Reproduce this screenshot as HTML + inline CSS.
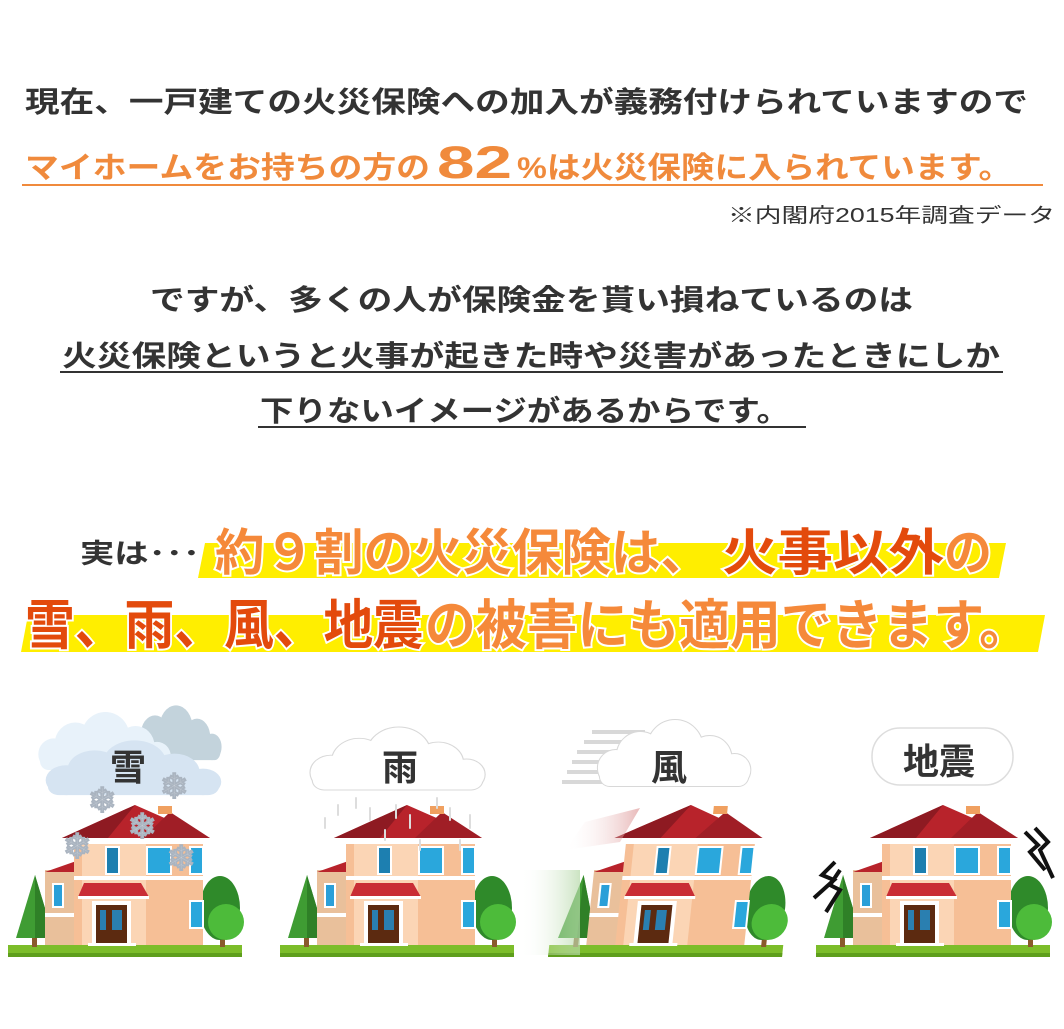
<!DOCTYPE html>
<html><head><meta charset="utf-8"><style>
html,body{margin:0;padding:0;background:#fff;}
svg{display:block;}
text{font-family:"Liberation Sans","Noto Sans CJK JP",sans-serif;font-weight:bold;}
</style></head><body>
<svg width="1064" height="1029" viewBox="0 0 1064 1029" xmlns="http://www.w3.org/2000/svg">
<defs>
<g id="house">
  <rect x="0" y="145" width="234" height="12" fill="#7cbd2a"/>
  <rect x="0" y="153" width="234" height="4" fill="#5e9e1c"/>
  <rect x="24" y="125" width="5" height="22" fill="#8a5a2b"/>
  <polygon points="27,75 8,138 46,138" fill="#3f9c33"/>
  <polygon points="27,75 27,138 46,138" fill="#2f8027"/>
  <rect x="212" y="125" width="5" height="22" fill="#8a5a2b"/>
  <ellipse cx="212" cy="108" rx="20" ry="32" fill="#2f8a2a"/>
  <circle cx="218" cy="122" r="18" fill="#4dbb3a"/>
  <rect x="37" y="70" width="40" height="75" fill="#e9c09b"/>
  <polygon points="37,72 77,58 77,72" fill="#b8232b"/>
  <rect x="44" y="83" width="12" height="25" fill="#fff"/>
  <rect x="46" y="85" width="8" height="21" fill="#2a9fd8"/>
  <rect x="37" y="113" width="40" height="4" fill="#fff"/>
  <rect x="66" y="40" width="129" height="105" fill="#f6bf96"/>
  <rect x="74" y="40" width="64" height="105" fill="#fbd5b5"/>
  <rect x="60" y="38" width="142" height="6" fill="#fff"/>
  <rect x="66" y="76" width="129" height="4" fill="#fff"/>
  <polygon points="127,5 54,38 202,38" fill="#b8232b"/>
  <polygon points="127,5 54,38 100,38" fill="#8e1a22"/>
  <polygon points="162,12 135,38 202,38" fill="#a01e26"/>
  <rect x="150" y="6" width="14" height="8" fill="#f0a060"/>
  <rect x="97" y="46" width="15" height="29" fill="#fff"/>
  <rect x="99" y="48" width="11" height="25" fill="#1d7fb0"/>
  <rect x="138" y="46" width="26" height="29" fill="#fff"/>
  <rect x="140" y="48" width="22" height="25" fill="#2aa7dc"/>
  <rect x="181" y="46" width="15" height="29" fill="#fff"/>
  <rect x="183" y="48" width="11" height="25" fill="#2aa7dc"/>
  <rect x="181" y="100" width="15" height="29" fill="#fff"/>
  <rect x="183" y="102" width="11" height="25" fill="#2aa7dc"/>
  <polygon points="76,83 133,83 141,97 70,97" fill="#c92d35"/>
  <rect x="70" y="96" width="71" height="3" fill="#fff"/>
  <rect x="84" y="101" width="39" height="44" fill="#fff"/>
  <rect x="88" y="105" width="31" height="38" fill="#5c2a10"/>
  <rect x="92" y="110" width="6" height="20" fill="#2a7fb0"/>
  <rect x="104" y="110" width="10" height="20" fill="#2a7fb0"/>
  <rect x="80" y="143" width="48" height="3" fill="#fff"/>
</g>
<g id="cloud">
  <circle cx="30" cy="40" r="18"/><circle cx="55" cy="28" r="24"/><circle cx="90" cy="20" r="28"/>
  <circle cx="125" cy="30" r="22"/><circle cx="150" cy="42" r="16"/>
  <rect x="14" y="38" width="150" height="20" rx="10"/>
</g>
<linearGradient id="gfade" x1="0" x2="1"><stop offset="0" stop-color="#fff" stop-opacity="0"/><stop offset="1" stop-color="#b5d8a8" stop-opacity="0.7"/></linearGradient>
<linearGradient id="rfade" x1="0" x2="1"><stop offset="0" stop-color="#fff" stop-opacity="0"/><stop offset="1" stop-color="#d98a8a" stop-opacity="0.6"/></linearGradient>
</defs>

<text x="25" y="112" font-size="29" fill="#333" textLength="1003" lengthAdjust="spacingAndGlyphs">現在、一戸建ての火災保険への加入が義務付けられていますので</text>
<text x="25" y="178" font-size="30" fill="#f08a3c" textLength="405" lengthAdjust="spacingAndGlyphs">マイホームをお持ちの方の</text>
<text x="437" y="178" font-size="45" fill="#f08a3c" textLength="75" lengthAdjust="spacingAndGlyphs">82</text>
<text x="517" y="178" font-size="30" fill="#f08a3c" textLength="495" lengthAdjust="spacingAndGlyphs">%は火災保険に入られています。</text>
<rect x="22" y="184" width="1021" height="2" fill="#f08a3c"/>
<text x="728" y="222" font-size="20" style="font-weight:normal" fill="#333" textLength="327" lengthAdjust="spacingAndGlyphs">※内閣府2015年調査データ</text>

<text x="150" y="310" font-size="29" fill="#333" textLength="763" lengthAdjust="spacingAndGlyphs">ですが、多くの人が保険金を貰い損ねているのは</text>
<text x="62" y="366" font-size="29" fill="#333" textLength="938" lengthAdjust="spacingAndGlyphs">火災保険というと火事が起きた時や災害があったときにしか</text>
<rect x="60" y="371" width="943" height="2" fill="#333"/>
<text x="260" y="421" font-size="29" fill="#333" textLength="530" lengthAdjust="spacingAndGlyphs">下りないイメージがあるからです。</text>
<rect x="258" y="426" width="548" height="2" fill="#333"/>

<polygon points="205,543 1006,543 999,578 198,578" fill="#ffee00"/>
<polygon points="28,615 1045,615 1038,652 21,652" fill="#ffee00"/>
<text x="80" y="563" font-size="27" fill="#333" textLength="120" lengthAdjust="spacingAndGlyphs">実は･･･</text>
<g stroke="#fff" stroke-width="4" paint-order="stroke" font-size="50">
<text x="215" y="570" fill="#f5893a" textLength="495" lengthAdjust="spacingAndGlyphs">約９割の火災保険は、</text>
<text x="722" y="570" fill="#e34a0c" textLength="222" lengthAdjust="spacingAndGlyphs">火事以外</text>
<text x="944" y="570" fill="#f5893a" textLength="48" lengthAdjust="spacingAndGlyphs">の</text>
<text x="25" y="644" font-size="54" fill="#e34a0c" textLength="398" lengthAdjust="spacingAndGlyphs">雪、雨、風、地震</text>
<text x="425" y="644" font-size="54" fill="#f5893a" textLength="605" lengthAdjust="spacingAndGlyphs">の被害にも適用できます。</text>
</g>

<use href="#house" x="8" y="800"/>
<use href="#house" x="280" y="800"/>
<g transform="translate(548,800)"><g transform="translate(0,157) skewX(-6) translate(0,-157)"><use href="#house"/></g></g>
<use href="#house" x="816" y="800"/>

<!-- snow -->
<g fill="#c3d3dc" transform="translate(122,712) scale(0.6,0.83)"><use href="#cloud"/></g>
<g fill="#e8f2fa" transform="translate(28,719) scale(0.86,0.88)"><use href="#cloud"/></g>
<g fill="#d6e4f2" transform="translate(32,747) scale(1.14,0.83)"><use href="#cloud"/></g>
<text x="110" y="780" font-size="36" fill="#333">雪</text>
<g fill="#fff" stroke="#aab4c0" stroke-width="0.8" font-size="34" style="font-weight:normal">
<text x="88" y="812">❄</text><text x="160" y="798">❄</text><text x="128" y="838">❄</text><text x="63" y="858">❄</text><text x="167" y="870">❄</text>
</g>

<!-- rain -->
<g fill="#fff" stroke="#d8d8d8" stroke-width="2" transform="translate(297,735) scale(1.13,0.94)"><use href="#cloud"/></g>
<g fill="#fff" transform="translate(297,735) scale(1.13,0.94)"><use href="#cloud"/></g>
<text x="382" y="780" font-size="36" fill="#333">雨</text>
<g stroke="#ddd" stroke-width="2" stroke-linecap="round">
<line x1="325" y1="818" x2="325" y2="828"/><line x1="338" y1="805" x2="338" y2="815"/><line x1="356" y1="798" x2="356" y2="808"/>
<line x1="370" y1="808" x2="370" y2="820"/><line x1="396" y1="805" x2="396" y2="818"/><line x1="410" y1="815" x2="410" y2="828"/>
<line x1="437" y1="798" x2="437" y2="808"/><line x1="450" y1="808" x2="450" y2="820"/><line x1="470" y1="815" x2="470" y2="828"/>
<line x1="385" y1="830" x2="385" y2="840"/><line x1="420" y1="840" x2="420" y2="850"/><line x1="460" y1="840" x2="460" y2="850"/>
</g>

<!-- wind -->
<g stroke="#d8d8d8" stroke-width="4">
<line x1="592" y1="732" x2="645" y2="732"/><line x1="584" y1="742" x2="640" y2="742"/><line x1="577" y1="752" x2="630" y2="752"/>
<line x1="572" y1="762" x2="625" y2="762"/><line x1="567" y1="772" x2="620" y2="772"/><line x1="562" y1="782" x2="615" y2="782"/>
</g>
<g fill="#fff" stroke="#d8d8d8" stroke-width="2" transform="translate(586,728) scale(0.99,1.0)"><use href="#cloud"/></g>
<g fill="#fff" transform="translate(586,728) scale(0.99,1.0)"><use href="#cloud"/></g>
<text x="651" y="780" font-size="36" fill="#333">風</text>
<rect x="520" y="870" width="60" height="85" fill="url(#gfade)"/>
<polygon points="585,822 640,808 620,842 565,850" fill="url(#rfade)"/>

<!-- earthquake -->
<rect x="872" y="728" width="141" height="57" rx="28" fill="#fff" stroke="#ddd" stroke-width="1.5"/>
<text x="903" y="774" font-size="36" fill="#333">地震</text>
<g fill="none" stroke="#111" stroke-width="4">
<polyline points="835,862 822,875 834,880 814,898"/>
<polyline points="840,870 830,885 840,890 826,912"/>
<polyline points="1025,832 1038,845 1030,852 1045,870"/>
<polyline points="1035,828 1048,842 1040,850 1053,878"/>
</g>
</svg>
</body></html>
